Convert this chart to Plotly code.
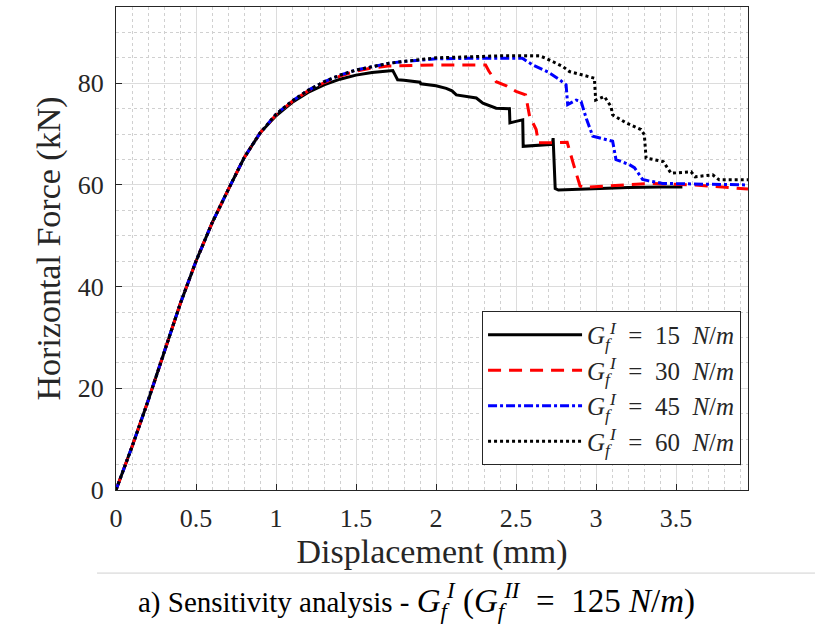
import plotly.graph_objects as go

# ---- data ----
x15 = [0, 0.1, 0.2, 0.3, 0.4, 0.5, 0.6, 0.7, 0.8, 0.9, 1.0, 1.1, 1.2, 1.3, 1.4, 1.5, 1.6, 1.7,
       1.73, 1.745, 1.76, 1.80, 1.85, 1.90, 1.905, 2.0, 2.064, 2.10, 2.127, 2.20, 2.252, 2.293,
       2.34, 2.376, 2.459, 2.462, 2.50, 2.542, 2.545, 2.60, 2.70, 2.728, 2.732, 2.745, 2.765,
       2.9, 3.0, 3.2, 3.4, 3.54]
y15 = [0, 8.5, 17.5, 27.0, 36.5, 45.0, 52.5, 59.0, 65.3, 70.2, 73.6, 76.2, 78.2, 79.7, 80.8, 81.6, 82.1, 82.4,
       82.5, 81.6, 80.7, 80.6, 80.4, 80.2, 79.9, 79.5, 79.0, 78.5, 77.7, 77.4, 77.1, 76.1,
       75.5, 75.1, 75.0, 72.2, 72.5, 72.8, 67.6, 67.7, 67.9, 68.0, 69.2, 59.3, 59.0,
       59.2, 59.3, 59.5, 59.6, 59.6]

x30 = [0, 0.1, 0.2, 0.3, 0.4, 0.5, 0.6, 0.7, 0.8, 0.9, 1.0, 1.1, 1.2, 1.3, 1.4, 1.5, 1.6, 1.7,
       1.8, 2.0, 2.2, 2.31, 2.33, 2.376, 2.44, 2.50, 2.56, 2.585, 2.626, 2.64, 2.70, 2.82,
       2.86, 2.90, 2.92, 3.1, 3.33, 3.62, 3.80, 3.95]
y30 = [0, 8.5, 17.5, 27.0, 36.5, 45.0, 52.5, 59.0, 65.3, 70.2, 73.8, 76.4, 78.5, 80.1, 81.4, 82.4, 83.0, 83.4,
       83.5, 83.6, 83.6, 83.6, 82.4, 80.3, 79.5, 78.4, 77.7, 73.5, 70.9, 68.3, 68.3, 68.4,
       64.0, 59.8, 59.5, 59.9, 60.3, 60.0, 59.6, 59.2]

x45 = [0, 0.1, 0.2, 0.3, 0.4, 0.5, 0.6, 0.7, 0.8, 0.9, 1.0, 1.1, 1.2, 1.3, 1.4, 1.5, 1.6, 1.7,
       1.8, 1.9, 2.0, 2.2, 2.4, 2.54, 2.605, 2.70, 2.772, 2.813, 2.823, 2.876, 2.907, 2.94,
       2.98, 3.104, 3.125, 3.208, 3.24, 3.291, 3.33, 3.416, 3.6, 3.8, 3.95]
y45 = [0, 8.5, 17.5, 27.0, 36.5, 45.0, 52.5, 59.0, 65.3, 70.2, 73.9, 76.5, 78.6, 80.3, 81.6, 82.6, 83.3, 83.9,
       84.3, 84.6, 84.8, 84.9, 84.9, 84.9, 83.6, 82.2, 80.7, 79.7, 75.8, 76.7, 76.4, 73.0,
       69.6, 68.6, 65.0, 64.0, 63.4, 61.1, 60.8, 60.3, 60.2, 60.1, 60.0]

x60 = [0, 0.1, 0.2, 0.3, 0.4, 0.5, 0.6, 0.7, 0.8, 0.9, 1.0, 1.1, 1.2, 1.3, 1.4, 1.5, 1.6, 1.7,
       1.8, 1.9, 2.0, 2.2, 2.4, 2.647, 2.688, 2.792, 2.834, 2.99, 2.998, 3.052, 3.094, 3.104,
       3.188, 3.281, 3.302, 3.313, 3.396, 3.42, 3.469, 3.594, 3.62, 3.729, 3.77, 3.95]
y60 = [0, 8.5, 17.5, 27.0, 36.5, 45.0, 52.5, 59.0, 65.3, 70.2, 73.9, 76.5, 78.6, 80.3, 81.6, 82.6, 83.3, 83.9,
       84.3, 84.7, 85.0, 85.2, 85.4, 85.4, 84.9, 83.3, 82.3, 81.0, 76.7, 77.4, 75.4, 73.8,
       72.2, 70.9, 69.9, 65.3, 64.7, 64.6, 62.3, 62.6, 61.6, 62.0, 61.0, 61.0]

legend_values = ["15", "30", "45", "60"]
x_ticks = [0, 0.5, 1, 1.5, 2, 2.5, 3, 3.5]
y_ticks = [0, 20, 40, 60, 80]

GFI = "<i>G</i><sub><i>f</i></sub><sup><i>I</i></sup>"
GFII = "<i>G</i><sub><i>f</i></sub><sup><i>II</i></sup>"
SP = "&nbsp;"
SP2 = "&nbsp;&nbsp;"
legend_names = [f"{GFI}{SP2}={SP2}{v}{SP2}<i>N</i>/<i>m</i>" for v in legend_values]
caption = ("a) Sensitivity analysis - "
           f"<span style='font-size:33px'>{GFI} ({GFII}{SP2}={SP2}125{SP}<i>N</i>/<i>m</i>)</span>")

FONT = "Liberation Serif"
styles = [
    dict(color="black", width=3, dash="solid"),
    dict(color="#ff0000", width=3, dash="13px,8px"),
    dict(color="#0000ff", width=3, dash="9px,3px,3px,3px"),
    dict(color="black", width=3, dash="3px,3px"),
]

fig = go.Figure()
for xs, ys, name, st in zip([x15, x30, x45, x60], [y15, y30, y45, y60], legend_names, styles):
    fig.add_trace(go.Scatter(x=xs, y=ys, mode="lines", name=name, line=st))

axis_common = dict(
    showline=True, linecolor="#262626", linewidth=1, mirror=True,
    ticks="inside", ticklen=6, tickcolor="#262626",
    showgrid=True, gridcolor="#dcdcdc", gridwidth=1,
    zeroline=False,
    tickfont=dict(family=FONT, size=26, color="#262626"),
)

fig.update_xaxes(
    range=[0, 3.95], tickvals=x_ticks, ticktext=[str(v) for v in x_ticks],
    ticklabelstandoff=5,
    minor=dict(dtick=0.1, showgrid=True, griddash="dot", gridcolor="#d0d0d0", gridwidth=1),
    title=dict(text="Displacement (mm)", font=dict(family=FONT, size=34, color="#262626"), standoff=3),
    **axis_common,
)
fig.update_yaxes(
    range=[0, 95], tickvals=y_ticks,
    ticklabelstandoff=6,
    minor=dict(dtick=5, showgrid=True, griddash="dot", gridcolor="#d0d0d0", gridwidth=1),
    title=dict(text="Horizontal Force (kN)", font=dict(family=FONT, size=34, color="#262626"), standoff=6),
    **axis_common,
)

fig.update_layout(
    width=817, height=624,
    margin=dict(l=116, r=69, t=7, b=134),
    paper_bgcolor="white", plot_bgcolor="white",
    font=dict(family=FONT),
    legend=dict(
        x=0.989, y=0.052, xanchor="right", yanchor="bottom",
        bgcolor="white", bordercolor="#262626", borderwidth=1,
        font=dict(family=FONT, size=25, color="#262626"),
        itemwidth=94, tracegroupgap=0,
    ),
    showlegend=True,
)

fig.add_shape(type="line", xref="paper", yref="paper",
              x0=-0.03, x1=1.106, y0=-0.172, y1=-0.172,
              line=dict(color="#d0d0d0", width=1))
fig.add_annotation(text=caption, xref="paper", yref="paper", x=0.476, y=-0.228,
                   showarrow=False, xanchor="center", yanchor="middle",
                   font=dict(family=FONT, size=29, color="black"))

fig.write_html("out.html")
